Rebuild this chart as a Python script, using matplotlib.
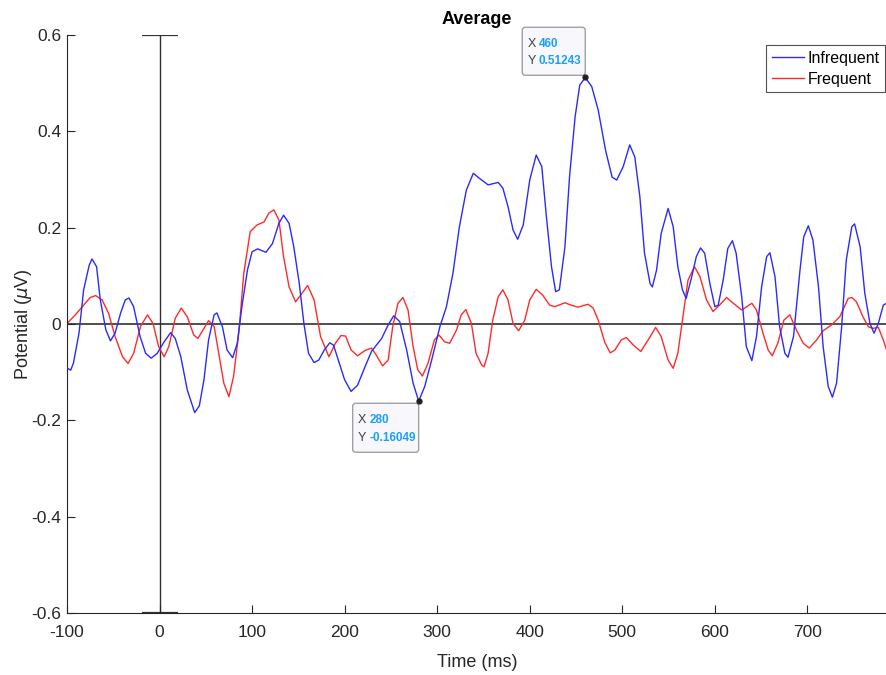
import numpy as np
import matplotlib
matplotlib.use('Agg')
import matplotlib.pyplot as plt
from matplotlib.patches import FancyBboxPatch
from matplotlib.transforms import ScaledTranslation

# averaged ERP, values
t_inf = [-100, -96, -93, -87, -82, -76, -73, -68, -64, -58, -53, -48, -42, -37, -33, -28, -21, -15, -9, -2.5,
         5, 12, 17, 23, 30, 38, 43, 48, 53, 59, 62, 68, 73, 79, 84, 89, 95, 100, 106, 115,
         122, 129, 134, 140, 145, 151, 156, 161, 167, 172, 178, 184, 188, 194, 200, 207, 214, 222, 229, 240,
         247, 253, 259.5, 267, 274, 280, 286.5, 294, 303, 310, 317, 324, 331.5, 339, 346, 355, 366, 371, 376.5, 382,
         387, 393, 400, 407, 413, 418, 423.5, 428, 432, 438, 443, 449, 454, 460, 467, 474, 482, 489, 494, 501,
         508, 513.5, 519, 524, 530, 532.5, 537, 542, 549.5, 555, 560, 565, 569, 575, 580, 584.5, 589, 594.6, 600, 603.6,
         609, 614, 619, 623, 629, 634, 640, 645, 650.5, 656, 659.5, 665, 670, 675.7, 679, 685, 692, 696, 701, 706,
         712, 717, 722.5, 727, 731.5, 737, 742, 748, 751, 757, 762, 767.6, 772, 776.6, 782, 786]
v_inf = [-0.091, -0.096, -0.081, -0.019, 0.071, 0.122, 0.135, 0.119, 0.050, -0.012, -0.035, -0.019, 0.023, 0.050, 0.054, 0.036, -0.026, -0.061, -0.071, -0.061,
         -0.037, -0.018, -0.030, -0.068, -0.137, -0.184, -0.170, -0.116, -0.033, 0.019, 0.023, -0.006, -0.054, -0.070, -0.040, 0.036, 0.112, 0.150, 0.156, 0.149,
         0.167, 0.209, 0.226, 0.209, 0.161, 0.084, 0.001, -0.061, -0.080, -0.075, -0.054, -0.039, -0.044, -0.080, -0.116, -0.140, -0.127, -0.089, -0.057, -0.030,
         -0.002, 0.017, 0.005, -0.054, -0.123, -0.160, -0.130, -0.075, -0.005, 0.036, 0.105, 0.202, 0.278, 0.313, 0.302, 0.289, 0.294, 0.282, 0.244, 0.195,
         0.176, 0.206, 0.299, 0.351, 0.327, 0.223, 0.119, 0.067, 0.071, 0.160, 0.306, 0.430, 0.496, 0.512, 0.493, 0.444, 0.360, 0.305, 0.299, 0.327,
         0.372, 0.347, 0.264, 0.147, 0.084, 0.077, 0.112, 0.188, 0.240, 0.202, 0.119, 0.071, 0.053, 0.098, 0.140, 0.158, 0.147, 0.084, 0.036, 0.039,
         0.091, 0.157, 0.173, 0.147, 0.057, -0.047, -0.076, -0.026, 0.077, 0.140, 0.148, 0.098, -0.006, -0.061, -0.069, -0.026, 0.112, 0.181, 0.204, 0.174,
         0.077, -0.047, -0.130, -0.152, -0.123, -0.006, 0.133, 0.202, 0.208, 0.160, 0.064, 0.001, -0.019, 0.001, 0.039, 0.044]

t_freq = [-100, -91, -82, -75, -69, -62, -55, -48, -40, -34, -28, -20.5, -13, -7, -1, 5, 10, 17, 23.5, 30,
          37, 41.5, 48, 53, 59, 64, 69.5, 75, 80, 86, 91, 98, 105.6, 113, 118, 123.5, 129, 134, 140, 147,
          154, 160, 167, 174, 183, 190, 196, 201, 207, 214, 222, 229, 234, 241, 247, 252, 257.6, 263, 268.5, 274,
          279, 284, 290, 297, 302, 308, 313.5, 321, 326, 331, 337, 342, 348, 350.6, 355, 360, 366, 371, 376.5, 382,
          388, 394.6, 400, 407, 414, 421.6, 427, 438, 445, 452, 463, 468.5, 474, 481, 487, 492, 499, 504.5, 512, 520,
          528, 536, 542, 549.5, 555, 560, 566, 571, 578, 584, 591, 598, 605, 612.6, 620, 629, 640, 645, 652, 657.6,
          662, 668, 674.6, 681, 688, 695.5, 702, 710, 717, 726, 735, 744, 748, 753, 760, 766, 771, 776.6, 782, 786]
v_freq = [0.001, 0.019, 0.039, 0.055, 0.059, 0.050, 0.022, -0.026, -0.068, -0.082, -0.061, -0.005, 0.019, 0.001, -0.047, -0.068, -0.047, 0.012, 0.033, 0.015,
          -0.023, -0.030, -0.009, 0.007, -0.005, -0.061, -0.123, -0.151, -0.109, -0.012, 0.105, 0.192, 0.206, 0.212, 0.230, 0.237, 0.216, 0.140, 0.077, 0.046,
          0.064, 0.080, 0.050, -0.026, -0.068, -0.040, -0.024, -0.025, -0.054, -0.066, -0.055, -0.050, -0.064, -0.087, -0.075, -0.005, 0.043, 0.055, 0.029, -0.047,
          -0.095, -0.108, -0.082, -0.033, -0.023, -0.037, -0.040, -0.012, 0.019, 0.030, 0.001, -0.061, -0.085, -0.089, -0.061, 0.008, 0.057, 0.071, 0.050, 0.001,
          -0.014, 0.008, 0.050, 0.072, 0.060, 0.039, 0.036, 0.044, 0.039, 0.035, 0.041, 0.033, 0.008, -0.038, -0.060, -0.054, -0.033, -0.028, -0.044, -0.057,
          -0.033, -0.007, -0.026, -0.075, -0.092, -0.061, 0.022, 0.091, 0.119, 0.098, 0.050, 0.026, 0.039, 0.055, 0.043, 0.029, 0.043, 0.029, -0.019, -0.054,
          -0.066, -0.040, 0.008, 0.019, -0.012, -0.040, -0.050, -0.033, -0.014, -0.002, 0.015, 0.053, 0.055, 0.046, 0.015, -0.006, -0.009, -0.007, -0.033, -0.057]

# data tips
tips_x = [460, 280]
tips_y = [0.51243, -0.16049]

plt.rcParams['font.family'] = ['Liberation Sans', 'DejaVu Sans']
plt.rcParams['mathtext.fontset'] = 'dejavusans'
plt.rcParams['axes.unicode_minus'] = False

fig = plt.figure(figsize=(8.87, 6.75), dpi=100)
ax = fig.add_axes([0.0755, 0.092, 0.9245, 0.856])

ax.axhline(0, color='#404040', lw=1.3, zorder=1)
ax.errorbar(0, 0, yerr=0.6, color='#303030', ecolor='#303030', elinewidth=1, capsize=13, capthick=1.6, zorder=1)

ax.plot(t_inf, v_inf, color='#2a2aff', lw=1.0, label='Infrequent', zorder=3)
ax.plot(t_freq, v_freq, color='#ff2a2a', lw=1.0, label='Frequent', zorder=2)

ax.set_xlim(-100, 786)
ax.set_ylim(-0.6, 0.6)
ax.set_xticks(np.arange(-100, 701, 100))
ax.set_yticks([-0.6, -0.4, -0.2, 0, 0.2, 0.4, 0.6])
ax.set_yticklabels(['-0.6', '-0.4', '-0.2', '0', '0.2', '0.4', '0.6'])
for s in ['top', 'right']:
    ax.spines[s].set_visible(False)
for s in ['left', 'bottom']:
    ax.spines[s].set_color('#262626')
    ax.spines[s].set_linewidth(0.8)
ax.tick_params(direction='in', length=6, width=0.8, colors='#262626', labelsize=12.5)
ax.tick_params(axis='x', pad=9)
ax.tick_params(axis='y', pad=4)

ax.set_title('Average', fontsize=13, fontweight='bold', color='black', pad=8)
ax.set_xlabel('Time (ms)', fontsize=13, color='#262626', labelpad=10)
ax.set_ylabel(r'Potential ($\mu$V)', fontsize=13, color='#262626')
ax.yaxis.set_label_coords(-0.04, 0.5)

leg = ax.legend(loc='upper right', bbox_to_anchor=(1.0, 0.985), fontsize=11.5, frameon=True, fancybox=False,
                edgecolor='#262626', handlelength=2.0, handletextpad=0.25, borderpad=0.35, labelspacing=0.35,
                borderaxespad=0.1)
leg.get_frame().set_linewidth(0.8)

# box offsets in inches relative to the picked point
boxes = [(-0.63, 0.02, 0.63, 0.48), (-0.66, -0.51, 0.66, 0.49)]
for (px, py), (bx, by, bw, bh) in zip(zip(tips_x, tips_y), boxes):
    tr = fig.dpi_scale_trans + ScaledTranslation(px, py, ax.transData)
    ax.add_patch(FancyBboxPatch((bx, by), bw, bh, boxstyle='round,pad=0,rounding_size=0.03',
                                transform=tr, facecolor='#f8f8fc', edgecolor='#a0a0a0', lw=1.0,
                                zorder=5, clip_on=False))
    ax.plot(px, py, 'o', color='#202020', ms=3.5, zorder=6)
    ax.text(bx + 0.05, by + bh * 0.66, 'X', transform=tr, fontsize=9, color='#404040',
            va='center', ha='left', zorder=7)
    ax.text(bx + 0.05, by + bh * 0.30, 'Y', transform=tr, fontsize=9, color='#404040',
            va='center', ha='left', zorder=7)
    ax.text(bx + 0.165, by + bh * 0.66, '%g' % px, transform=tr, fontsize=8.5, color='#1a9fff',
            fontweight='bold', va='center', ha='left', zorder=7)
    ax.text(bx + 0.165, by + bh * 0.30, '%g' % py, transform=tr, fontsize=8.5, color='#1a9fff',
            fontweight='bold', va='center', ha='left', zorder=7)

fig.savefig('out.png', dpi=100)
